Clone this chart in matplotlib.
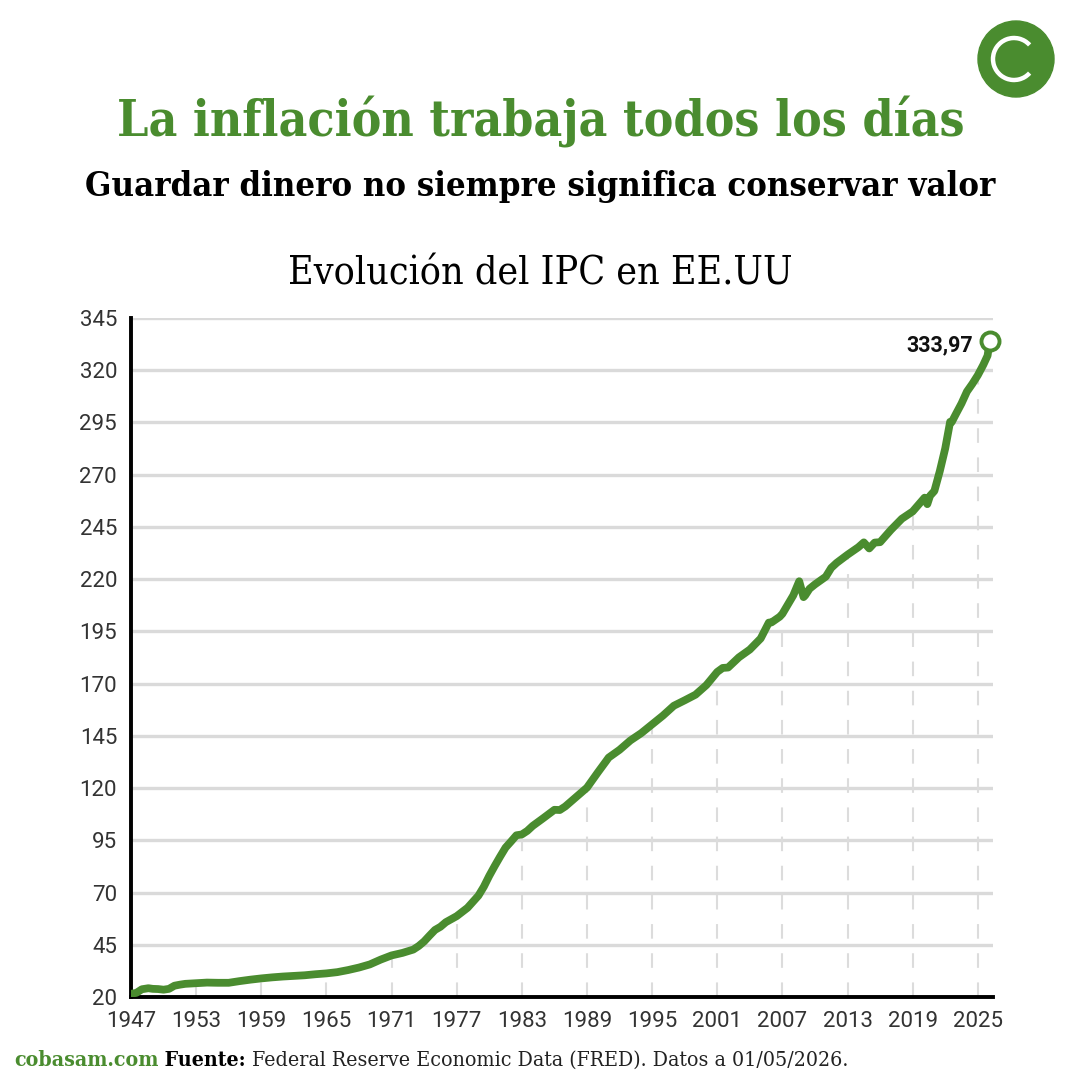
import numpy as np
import matplotlib
matplotlib.use("Agg")
import matplotlib.pyplot as plt
from matplotlib.patches import Circle, Arc

# ---------------- data (US CPI, FRED CPIAUCSL) ----------------
years = [1947.0, 1947.5, 1948.0, 1948.6, 1949.0, 1949.5, 1950.0, 1950.5, 1951.0, 1951.5,
         1952.0, 1953.0, 1954.0, 1955.0, 1956.0, 1956.5, 1957.0, 1958.0, 1959.0, 1960.0,
         1961.0, 1962.0, 1963.0, 1964.0, 1965.0, 1966.0, 1967.0, 1968.0, 1969.0, 1970.0,
         1971.0, 1972.0, 1973.0, 1973.5, 1974.0, 1974.5, 1975.0, 1975.5, 1976.0, 1977.0,
         1978.0, 1979.0, 1979.5, 1980.0, 1980.5, 1981.0, 1981.5, 1982.0, 1982.5, 1983.0,
         1983.5, 1984.0, 1985.0, 1986.0, 1986.5, 1987.0, 1988.0, 1989.0, 1990.0, 1990.75,
         1991.0, 1992.0, 1993.0, 1994.0, 1995.0, 1996.0, 1997.0, 1998.0, 1999.0, 2000.0,
         2001.0, 2001.5, 2002.0, 2003.0, 2004.0, 2005.0, 2005.75, 2006.0, 2006.75, 2007.0,
         2008.0, 2008.55, 2008.95, 2009.1, 2009.5, 2010.0, 2011.0, 2011.5, 2012.0, 2013.0,
         2014.0, 2014.5, 2015.0, 2015.5, 2016.0, 2017.0, 2018.0, 2019.0, 2020.1, 2020.35,
         2020.6, 2021.0, 2021.5, 2022.0, 2022.45, 2022.6, 2023.0, 2023.5, 2024.0, 2024.5,
         2025.0, 2025.5, 2025.9, 2026.1]
cpi = [21.5, 22.0, 23.7, 24.2, 23.9, 23.8, 23.5, 23.9, 25.4, 25.9,
       26.3, 26.6, 26.9, 26.8, 26.8, 27.2, 27.6, 28.3, 28.9, 29.4,
       29.8, 30.1, 30.4, 30.9, 31.3, 31.9, 32.9, 34.1, 35.6, 37.9,
       39.9, 41.1, 42.7, 44.4, 46.6, 49.4, 52.1, 53.6, 55.8, 58.7,
       62.7, 68.5, 72.8, 78.0, 82.7, 87.2, 91.5, 94.4, 97.4, 97.8,
       99.5, 101.9, 105.7, 109.6, 109.5, 111.2, 115.7, 120.2, 127.5, 132.8,
       134.6, 138.3, 142.8, 146.3, 150.5, 154.7, 159.4, 162.0, 164.7, 169.3,
       175.6, 177.5, 177.7, 182.6, 186.3, 191.6, 199.2, 199.3, 202.0, 203.4,
       212.2, 219.0, 211.4, 212.2, 215.4, 217.5, 221.2, 225.4, 227.8, 231.7,
       235.3, 237.6, 234.7, 237.5, 237.7, 243.6, 248.9, 252.4, 259.0, 255.9,
       259.9, 262.2, 271.7, 282.6, 295.3, 295.2, 299.2, 304.1, 309.8, 313.5,
       317.6, 322.5, 327.0, 333.97]

x_ticks = [1947, 1953, 1959, 1965, 1971, 1977, 1983, 1989, 1995, 2001, 2007, 2013, 2019, 2025]
y_ticks = [20, 45, 70, 95, 120, 145, 170, 195, 220, 245, 270, 295, 320, 345]
last_label = "333,97"

title = "La inflación trabaja todos los días"
subtitle = "Guardar dinero no siempre significa conservar valor"
chart_title = "Evolución del IPC en EE.UU"

GREEN = "#4a8c2f"
GRID = "#dadada"
DROP = "#dcdcdc"

W = H = 1081
fig = plt.figure(figsize=(W / 100, H / 100), dpi=100)
fig.patch.set_facecolor("white")

def fx(px):
    return px / W

def fy(py):
    return 1 - py / H

ax = fig.add_axes([fx(131), fy(997), fx(993) - fx(131), fy(318) - fy(997)])
ax.set_xlim(1947, 2026.4)
ax.set_ylim(20, 345)

for y in y_ticks[1:]:
    ax.axhline(y, color=GRID, lw=2.4, zorder=1)

# drop lines from curve to axis at each x tick
for xt in x_ticks[1:]:
    v = np.interp(xt, years, cpi)
    ax.vlines(xt, 20, v, colors=DROP, lw=1.5, linestyles=(0, (7, 7)), zorder=1)

ax.plot(years, cpi, color=GREEN, lw=5.6, solid_capstyle="round", solid_joinstyle="round", zorder=3)
ax.plot(years[-1], cpi[-1], marker="o", ms=13, mfc="white", mec=GREEN, mew=2.8, zorder=4,
        clip_on=False)
ax.annotate(last_label, (years[-1], cpi[-1]), xytext=(-12, -3), textcoords="offset points",
            ha="right", va="center", fontsize=15.5, fontweight="bold", family="Roboto", color="#111111")

for s in ["top", "right"]:
    ax.spines[s].set_visible(False)
for s in ["left", "bottom"]:
    ax.spines[s].set_linewidth(2.8)
    ax.spines[s].set_color("black")
ax.set_xticks(x_ticks)
ax.set_yticks(y_ticks)
ax.tick_params(axis="y", length=0, labelsize=16, colors="#333333", pad=10)
ax.tick_params(axis="x", length=0, labelsize=16, colors="#333333", pad=10)
for lab in ax.get_xticklabels() + ax.get_yticklabels():
    lab.set_family("Roboto")
    lab.set_fontweight("normal")
ax.set_facecolor("none")

# titles
fig.text(0.5, fy(122), title, ha="center", va="center", fontsize=35.7, fontweight="bold",
         family="DejaVu Serif", fontstretch="condensed", color=GREEN)
fig.text(0.5, fy(186), subtitle, ha="center", va="center", fontsize=24.8, fontweight="bold",
         family="DejaVu Serif", fontstretch="condensed", color="black")
fig.text(0.5, fy(274), chart_title, ha="center", va="center", fontsize=28.2,
         family="DejaVu Serif", fontstretch="condensed", color="black")

# logo
fig.patches.append(Circle((fx(1016), fy(59)), fx(38), transform=fig.transFigure, color=GREEN, zorder=5))
fig.patches.append(Arc((fx(1014), fy(59)), fx(42), fx(42), theta1=42, theta2=318,
                       transform=fig.transFigure, color="white", lw=3.2, zorder=6))

# footer
renderer = fig.canvas.get_renderer()
parts = [("cobasam.com", GREEN, "bold"), (" Fuente:", "black", "bold"),
         (" Federal Reserve Economic Data (FRED). Datos a 01/05/2026.", "#222222", "normal")]
xpos = fx(14)
for txt, col, wt in parts:
    t = fig.text(xpos, fy(1060), txt, ha="left", va="center", fontsize=15.3, fontweight=wt,
                 family="DejaVu Serif", fontstretch="condensed", color=col)
    bb = t.get_window_extent(renderer)
    xpos += bb.width / W

fig.savefig("out.png", dpi=100, facecolor="white")
